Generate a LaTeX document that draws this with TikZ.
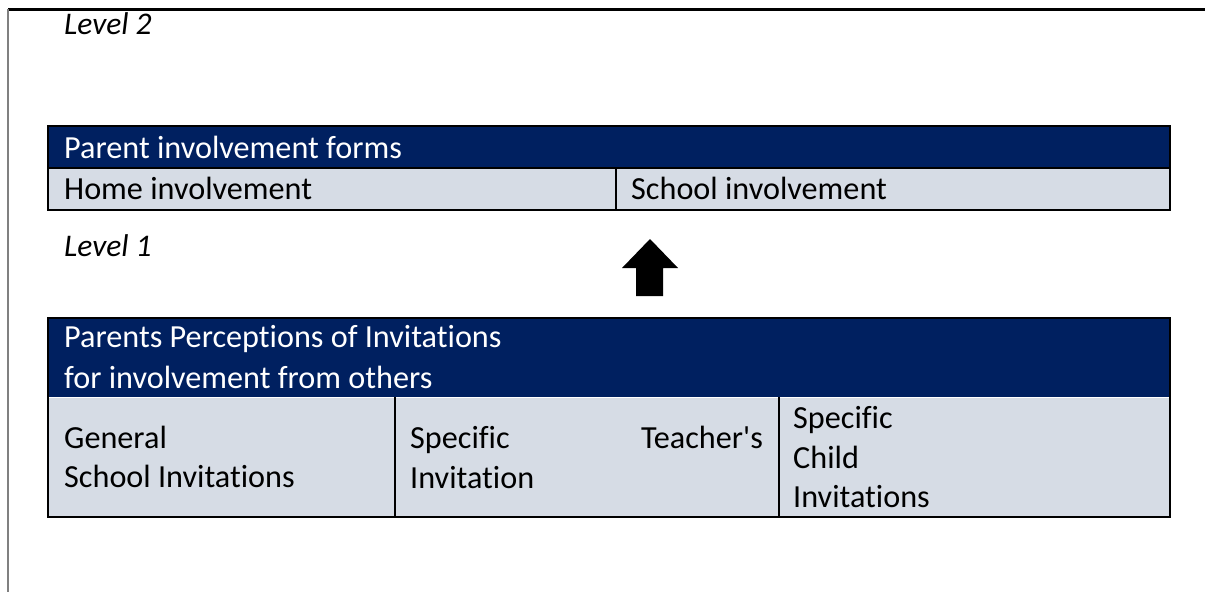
\documentclass[tikz,border=0pt]{standalone}
\usepackage{fontspec}
\setmainfont{Carlito}[Ligatures={NoCommon,NoContextual}, Contextuals=NoAlternate, RawFeature=-dlig]
\definecolor{navy}{HTML}{002060}
\definecolor{cellbg}{HTML}{D6DCE5}
\newcommand{\nlg}{\kern0pt{}}
\begin{document}
\begin{tikzpicture}[x=1pt,y=-1pt,
  lbl/.style={anchor=base west,inner sep=0pt,font=\fontsize{32.2}{38}\selectfont},
  lblr/.style={lbl,anchor=base east},
  hdr/.style={lbl,text=white},
  lvl/.style={lbl,font=\fontsize{31.5}{38}\selectfont\itshape},
  frame/.style={line width=2pt},
  divider/.style={line width=1.5pt}]
\useasboundingbox (0,0) rectangle (1205,592);
% page frame
\draw[line width=3pt] (8,9) coordinate (tl) -- (1205,9) coordinate (tr);
\draw[gray, line width=1.8pt] (tl) -- (8,592);
% level labels
\node[lvl] (lv2) at (64,34) {Level 2};
\node[lvl] (lv1) at (64,256) {Level 1};
% upper table
\fill[navy] (48,126) rectangle (1170,168);
\fill[cellbg] (48,168) rectangle (1170,210);
\draw[divider] (48,168) -- (1170,168);
\draw[divider] (616,168) -- (616,210);
\draw[frame] (48,126) rectangle (1170,210);
\node[hdr] (forms) at (64,158) {Parent involvement forms};
\node[lbl] (home) at (64,199) {Home involvement};
\node[lbl] (school) at (631,199) {School involvement};
% arrow
\fill (650,239) -- (678,268) -- (663,268) -- (663,296) -- (636,296) -- (636,268) -- (622,268) -- cycle;
% lower table
\fill[navy] (48,318) rectangle (1170,397);
\fill[cellbg] (48,397) rectangle (1170,517);
\draw[white, line width=1pt] (48,397.5) -- (1170,397.5);
\draw[divider] (395,397) -- (395,517);
\draw[divider] (779,397) -- (779,517);
\draw[frame] (48,318) rectangle (1170,517);
\node[hdr] (perc1) at (64,347) {Parents Percept\nlg ions of Invitat\nlg ions};
\node[hdr] (perc2) at (64,388) {for involvement from others};
\node[lbl] (gen1) at (64,448) {General};
\node[lbl] (gen2) at (64,487) {School Invitat\nlg ions};
\node[lbl] (teach1) at (410,448) {Specific};
\node[lblr] (teach2) at (763,448) {Teacher\textquotesingle s};
\node[lbl] (teach3) at (410,488) {Invitat\nlg ion};
\node[lbl] (child1) at (793,428) {Specific};
\node[lbl] (child2) at (793,468) {Child};
\node[lbl] (child3) at (793,507) {Invitat\nlg ions};
\end{tikzpicture}
\end{document}
